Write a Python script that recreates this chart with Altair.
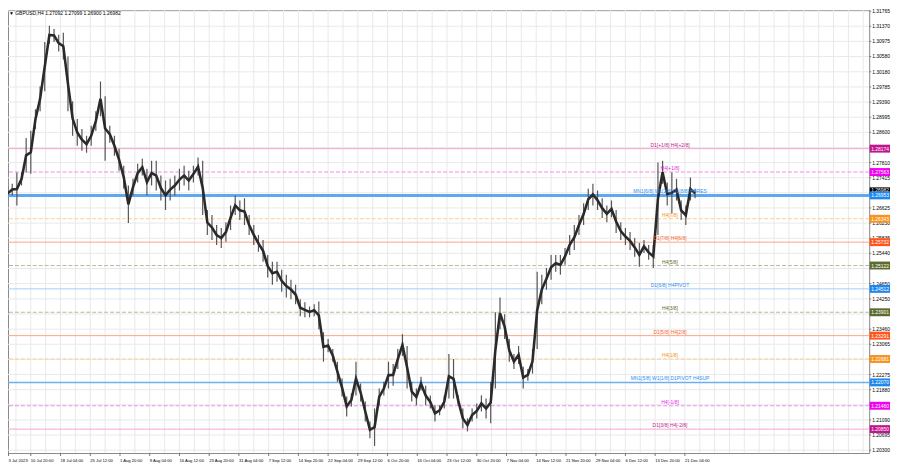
import altair as alt
import pandas as pd

# ---------------- data ----------------
# GBPUSD H4, sampled every 5 bars from 3 Jul 2023 (high / low of each group)
high = [1.2708, 1.2719, 1.2726, 1.2755, 1.2755, 1.2845, 1.2864, 1.2920, 1.2980, 1.3096,
        1.3138, 1.3130, 1.3115, 1.3120, 1.3058, 1.2941, 1.2895, 1.2869, 1.2851, 1.2877,
        1.2915, 1.2993, 1.2954, 1.2877, 1.2851, 1.2817, 1.2773, 1.2721, 1.2739, 1.2778,
        1.2791, 1.2765, 1.2786, 1.2786, 1.2747, 1.2734, 1.2739, 1.2747, 1.2765, 1.2773,
        1.2760, 1.2773, 1.2794, 1.2786, 1.2657, 1.2644, 1.2618, 1.2610, 1.2625, 1.2669,
        1.2695, 1.2682, 1.2688, 1.2644, 1.2618, 1.2592, 1.2579, 1.2540, 1.2522, 1.2522,
        1.2501, 1.2488, 1.2475, 1.2462, 1.2424, 1.2416, 1.2405, 1.2411, 1.2418, 1.2338,
        1.2320, 1.2294, 1.2261, 1.2217, 1.2170, 1.2178, 1.2261, 1.2204, 1.2157, 1.2105,
        1.2139, 1.2191, 1.2209, 1.2261, 1.2255, 1.2294, 1.2333, 1.2302, 1.2209, 1.2191,
        1.2222, 1.2198, 1.2173, 1.2147, 1.2147, 1.2173, 1.2281, 1.2268, 1.2173, 1.2139,
        1.2113, 1.2139, 1.2152, 1.2173, 1.2165, 1.2209, 1.2390, 1.2429, 1.2385, 1.2320,
        1.2281, 1.2302, 1.2248, 1.2242, 1.2294, 1.2496, 1.2488, 1.2506, 1.2540, 1.2540,
        1.2540, 1.2558, 1.2592, 1.2618, 1.2644, 1.2675, 1.2713, 1.2726, 1.2708, 1.2688,
        1.2669, 1.2682, 1.2657, 1.2625, 1.2610, 1.2600, 1.2584, 1.2571, 1.2579, 1.2566,
        1.2566, 1.2781, 1.2786, 1.2729, 1.2755, 1.2739, 1.2682, 1.2669, 1.2742, 1.2713]
low = [1.2669, 1.2682, 1.2695, 1.2669, 1.2721, 1.2755, 1.2752, 1.2869, 1.2915, 1.2967,
       1.3091, 1.3096, 1.3071, 1.3050, 1.2915, 1.2851, 1.2825, 1.2812, 1.2807, 1.2825,
       1.2864, 1.2902, 1.2786, 1.2833, 1.2799, 1.2760, 1.2713, 1.2623, 1.2695, 1.2729,
       1.2747, 1.2695, 1.2721, 1.2708, 1.2682, 1.2657, 1.2682, 1.2695, 1.2708, 1.2721,
       1.2708, 1.2729, 1.2747, 1.2644, 1.2592, 1.2579, 1.2566, 1.2558, 1.2574, 1.2605,
       1.2644, 1.2631, 1.2618, 1.2592, 1.2566, 1.2548, 1.2522, 1.2481, 1.2462, 1.2470,
       1.2444, 1.2429, 1.2424, 1.2411, 1.2380, 1.2377, 1.2377, 1.2380, 1.2346, 1.2261,
       1.2286, 1.2261, 1.2209, 1.2170, 1.2118, 1.2144, 1.2173, 1.2157, 1.2105, 1.2061,
       1.2041, 1.2147, 1.2173, 1.2191, 1.2198, 1.2242, 1.2276, 1.2191, 1.2157, 1.2147,
       1.2186, 1.2147, 1.2139, 1.2105, 1.2121, 1.2139, 1.2165, 1.2165, 1.2147, 1.2087,
       1.2079, 1.2105, 1.2113, 1.2131, 1.2113, 1.2100, 1.2191, 1.2346, 1.2320, 1.2261,
       1.2242, 1.2255, 1.2191, 1.2211, 1.2230, 1.2294, 1.2411, 1.2449, 1.2475, 1.2496,
       1.2488, 1.2514, 1.2540, 1.2553, 1.2592, 1.2618, 1.2657, 1.2669, 1.2657, 1.2636,
       1.2625, 1.2638, 1.2597, 1.2579, 1.2566, 1.2553, 1.2535, 1.2509, 1.2545, 1.2527,
       1.2506, 1.2592, 1.2726, 1.2669, 1.2649, 1.2682, 1.2631, 1.2618, 1.2682, 1.2688]
BAR_STEP = 5
bars = [BAR_STEP * (i + 1) for i in range(len(high))]

date_labels = ["3 Jul 2023", "10 Jul 20:00", "18 Jul 04:00", "25 Jul 12:00", "1 Aug 20:00",
               "9 Aug 04:00", "16 Aug 12:00", "23 Aug 20:00", "31 Aug 04:00", "7 Sep 12:00",
               "14 Sep 20:00", "22 Sep 04:00", "29 Sep 12:00", "6 Oct 20:00", "16 Oct 04:00",
               "23 Oct 12:00", "30 Oct 20:00", "7 Nov 04:00", "14 Nov 12:00", "21 Nov 20:00",
               "29 Nov 04:00", "6 Dec 12:00", "13 Dec 20:00", "21 Dec 04:00"]
date_bars = [11] + [35 + 32 * j for j in range(23)]
grid_bars = [3 + 16 * j for j in range(59)]

# horizontal grid levels, and the ones whose labels are visible (others hidden under boxes)
grid_prices = [1.31765, 1.31370, 1.30975, 1.30580, 1.30180, 1.29785, 1.29390, 1.28995,
               1.28600, 1.28205, 1.27810, 1.27415, 1.27020, 1.26625, 1.26230, 1.25835,
               1.25440, 1.25045, 1.24650, 1.24250, 1.23855, 1.23460, 1.23065, 1.22670,
               1.22275, 1.21880, 1.21485, 1.21090, 1.20695, 1.20300]
label_prices = [1.31765, 1.31370, 1.30975, 1.30580, 1.30180, 1.29785, 1.29390, 1.28995,
                1.28600, 1.27810, 1.27415, 1.26625, 1.26230, 1.25835, 1.25440, 1.24650,
                1.24250, 1.23460, 1.23065, 1.22275, 1.21880, 1.21090, 1.20695, 1.20300]

level_price = [1.28174, 1.27563, 1.26953, 1.26343, 1.25732, 1.25122, 1.24512,
               1.23901, 1.23291, 1.22681, 1.22070, 1.21460, 1.20850]
level_name = ["D1[+1/8] H4[+2/8]", "H4[+1/8]", "MN1[6/8] W1[2/8] D1[8/8] H4RES", "H4[7/8]",
              "D1[7/8] H4[6/8]", "H4[5/8]", "D1[6/8] H4PIVOT", "H4[3/8]", "D1[5/8] H4[2/8]",
              "H4[1/8]", "MN1[5/8] W1[1/8] D1PIVOT H4SUP", "H4[-1/8]", "D1[3/8] H4[-2/8]"]
current_price = 1.26982
title_text = "\u25bc GBPUSD,H4  1.27092 1.27099 1.26900 1.26982"

# ---------------- styles ----------------
# (line colour, dashed, line width, text colour, box colour)
STYLE = [
    ("#F5A3D2", False, 1.0, "#C0168C", "#C0168C"),
    ("#F08AF0", True, 1.0, "#E01FE0", "#F000F0"),
    ("#5EA8F2", False, 3.0, "#2A8FF0", "#1E88EE"),
    ("#FFCB90", True, 1.0, "#F39019", "#F7931E"),
    ("#FFA283", False, 1.0, "#F0642A", "#FF561C"),
    ("#B9B9A0", True, 1.0, "#5E6B2B", "#5C6B2E"),
    ("#A2CCF4", False, 1.0, "#2A8FF0", "#1E88EE"),
    ("#B9B9A0", True, 1.0, "#5E6B2B", "#5C6B2E"),
    ("#FFA283", False, 1.0, "#F0642A", "#FF561C"),
    ("#FFCB90", True, 1.0, "#F39019", "#F7931E"),
    ("#6EAFF0", False, 1.5, "#2A8FF0", "#1E88EE"),
    ("#F08AF0", True, 1.0, "#E01FE0", "#F000F0"),
    ("#F5A3D2", False, 1.0, "#C0168C", "#C0168C"),
]
FONT = "Liberation Sans, DejaVu Sans"
W, H = 869, 447
GRID = "#e9e9e9"

xscale = alt.Scale(domain=[10.45, 937.4], zero=False, nice=False)
yscale = alt.Scale(domain=[1.20225, 1.31793], zero=False, nice=False)

candles = pd.DataFrame({"bar": bars, "high": high, "low": low})
lv = pd.DataFrame({
    "price": level_price,
    "name": level_name,
    "line_color": [s[0] for s in STYLE],
    "dashed": [s[1] for s in STYLE],
    "width": [s[2] for s in STYLE],
    "text_color": [s[3] for s in STYLE],
    "box_color": [s[4] for s in STYLE],
})
dl = pd.DataFrame({"bar": date_bars, "label": date_labels})
gb = pd.DataFrame({"bar": grid_bars})
gp = pd.DataFrame({"price": grid_prices})
lp = pd.DataFrame({"price": label_prices})
cur = pd.DataFrame({"price": [current_price]})
tt = pd.DataFrame({"t": [title_text]})

Yp = alt.Y("price:Q", scale=yscale, axis=None)
Xb = alt.X("bar:Q", scale=xscale, axis=None)

vgrid = alt.Chart(gb).mark_rule(color=GRID, strokeWidth=1).encode(x=Xb)
hgrid = alt.Chart(gp).mark_rule(color=GRID, strokeWidth=1).encode(y=Yp)
yticks = alt.Chart(gp).mark_rule(color="#777777").encode(
    x=alt.value(W), x2=alt.value(W + 2), y=Yp)
ylabels = alt.Chart(lp).mark_text(align="left", baseline="middle", fontSize=5, font=FONT,
                                  color="#000000").encode(
    x=alt.value(W + 3), y=Yp, text=alt.Text("price:Q", format=".5f"))

solid = alt.Chart(lv).transform_filter("!datum.dashed").mark_rule().encode(
    y=Yp, color=alt.Color("line_color:N", scale=None), size=alt.Size("width:Q", scale=None))
dashed = alt.Chart(lv).transform_filter("datum.dashed").mark_rule(strokeDash=[4, 2], strokeWidth=1).encode(
    y=Yp, color=alt.Color("line_color:N", scale=None))

wicks = alt.Chart(candles).mark_rule(color="#555555", strokeWidth=1.2, clip=True).encode(
    x=Xb,
    y=alt.Y("low:Q", scale=yscale, axis=None),
    y2="high:Q")
body = alt.Chart(candles).transform_calculate(
    mid="(datum.high + datum.low) / 2"
).mark_line(color="#2a2a2a", strokeWidth=2.6, clip=True, interpolate="linear").encode(
    x=Xb, y=alt.Y("mid:Q", scale=yscale, axis=None))

ltext = alt.Chart(lv).mark_text(fontSize=5, font=FONT, baseline="bottom", dy=-1).encode(
    x=alt.value(668), y=Yp, text="name:N", color=alt.Color("text_color:N", scale=None))

cur_box = alt.Chart(cur).mark_rule(color="#000000", strokeWidth=8, yOffset=-3).encode(
    x=alt.value(W + 0.5), x2=alt.value(W + 21), y=Yp)
cur_text = alt.Chart(cur).mark_text(fontSize=5, font=FONT, color="#ffffff", dy=-4).encode(
    x=alt.value(W + 11), y=Yp, text=alt.Text("price:Q", format=".5f"))
boxes = alt.Chart(lv).mark_rule(strokeWidth=8).encode(
    x=alt.value(W + 0.5), x2=alt.value(W + 21), y=Yp, color=alt.Color("box_color:N", scale=None))
box_text = alt.Chart(lv).mark_text(fontSize=5, font=FONT, color="#ffffff").encode(
    x=alt.value(W + 11), y=Yp, text=alt.Text("price:Q", format=".5f"))

dates = alt.Chart(dl).mark_text(align="left", baseline="middle", fontSize=4.2, font=FONT,
                                color="#000000").encode(
    x=Xb, y=alt.value(H + 8), text="label:N")
dticks = alt.Chart(dl).mark_rule(color="#777777").encode(
    x=Xb, y=alt.value(H), y2=alt.value(H + 3))

title = alt.Chart(tt).mark_text(align="left", baseline="top", fontSize=5, font=FONT,
                                color="#000000").encode(
    x=alt.value(1), y=alt.value(1), text="t:N")

chart = alt.layer(
    vgrid, hgrid, yticks, ylabels, solid, dashed, wicks, body, ltext,
    cur_box, cur_text, boxes, box_text, dates, dticks, title
).properties(
    width=W, height=H,
    padding={"left": 0, "top": 0, "right": 23, "bottom": 12},
    autosize=alt.AutoSizeParams(type="none"),
    background="#ffffff",
).configure_view(stroke="#888888", strokeWidth=1)

chart.save("out.html", embed_options={"renderer": "svg", "actions": False})
